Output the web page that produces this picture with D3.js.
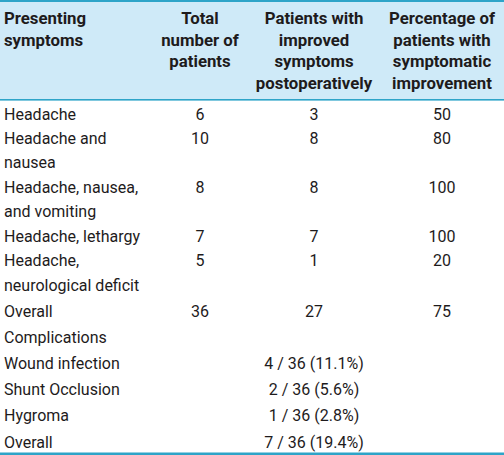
<!DOCTYPE html>
<html><head><meta charset="utf-8">
<script src="https://cdn.jsdelivr.net/npm/d3@7"></script>
<style>
html,body{margin:0;padding:0;background:#fff;}
svg{display:block;}
text{font-family:Roboto,"Liberation Sans",sans-serif;font-size:16px;fill:#1e1b1c;}
.hd{font-weight:bold;font-size:16.8px;}
</style></head><body>
<script>
const headers = [
  ["Presenting","symptoms"],
  ["Total","number of","patients"],
  ["Patients with","improved","symptoms","postoperatively"],
  ["Percentage of","patients with","symptomatic","improvement"]
];
const symptoms = [["Headache"],["Headache and","nausea"],["Headache, nausea,","and vomiting"],["Headache, lethargy"],["Headache,","neurological deficit"],["Overall"]];
const totals = ["6","10","8","7","5","36"];
const improved = ["3","8","8","7","1","27"];
const percents = ["50","80","100","100","20","75"];
const complicationTitle = "Complications";
const complications = ["Wound infection","Shunt Occlusion","Hygroma","Overall"];
const complicationValues = ["4 / 36 (11.1%)","2 / 36 (5.6%)","1 / 36 (2.8%)","7 / 36 (19.4%)"];

const W = 504, H = 455;
const svg = d3.select("body").append("svg").attr("width", W).attr("height", H);

const colX = d3.scaleOrdinal().domain([0,1,2,3]).range([4,200,314,442]);
const anchor = i => i === 0 ? "start" : "middle";
const headY = d3.scaleLinear().domain([0,3]).range([18,83]);
const lineY = d3.scaleLinear().domain([0,7,13]).range([114,285,442]);
const base = 5.6;

svg.append("rect").attr("x",0).attr("y",0).attr("width",W).attr("height",100).attr("fill","#cfeaf8");
const border = "#2ea4c8";
svg.append("rect").attr("x",0).attr("y",0).attr("width",W).attr("height",2).attr("fill",border);
svg.append("rect").attr("x",0).attr("y",99).attr("width",W).attr("height",1.6).attr("fill",border);
svg.append("rect").attr("x",0).attr("y",452.5).attr("width",W).attr("height",2.5).attr("fill",border);

headers.forEach((lines,c) => {
  lines.forEach((t,k) => {
    svg.append("text").attr("class","hd").attr("x",colX(c)).attr("y",headY(k)+base+0.3)
      .attr("text-anchor",anchor(c)).text(t);
  });
});

let li = 0;
symptoms.forEach((lines,r) => {
  const y0 = lineY(li);
  lines.forEach((t,k) => {
    svg.append("text").attr("x",colX(0)).attr("y",lineY(li+k)+base).text(t);
  });
  [totals[r],improved[r],percents[r]].forEach((v,c) => {
    svg.append("text").attr("x",colX(c+1)).attr("y",y0+base).attr("text-anchor","middle").text(v);
  });
  li += lines.length;
});
svg.append("text").attr("x",colX(0)).attr("y",lineY(li)+base).text(complicationTitle);
li++;
complications.forEach((t,r) => {
  svg.append("text").attr("x",colX(0)).attr("y",lineY(li)+base).text(t);
  svg.append("text").attr("x",colX(2)).attr("y",lineY(li)+base).attr("text-anchor","middle").text(complicationValues[r]);
  li++;
});
</script>
</body></html>
